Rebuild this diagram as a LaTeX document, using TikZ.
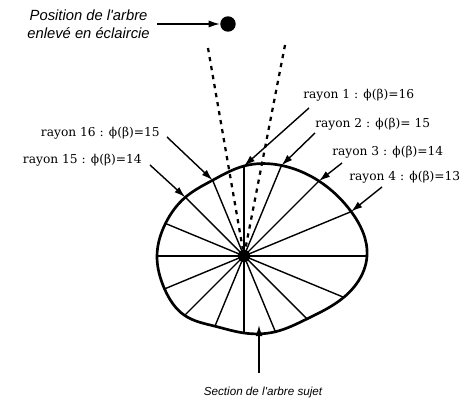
\documentclass[tikz,border=0pt]{standalone}
\usepackage{fontspec}
\usepackage{tikz}
\usetikzlibrary{arrows.meta,calc,hobby}
\newfontfamily\raysfont{DejaVu Serif}
\newfontfamily\notefont{Liberation Sans}

\begin{document}
\begin{tikzpicture}[
    x=0.025cm, y=0.025cm,
    outline/.style={line width=1.9pt, draw=black},
    ray/.style={line width=1pt, draw=black},
    sight/.style={line width=1.6pt, draw=black, dash pattern=on 3pt off 3.5pt},
    edge/.style={-{Latex[length=8pt,width=5pt]}, line width=1pt, draw=black},
    raylabel/.style={font=\raysfont\fontsize{8.7}{10}\selectfont, inner sep=0pt},
    note/.style={font=\notefont\itshape\fontsize{8.3}{9.5}\selectfont, inner sep=0pt, align=center},
]
\useasboundingbox (0,0) rectangle (475,400);

% Section of the tree
\coordinate (c) at (244,144);
\foreach \i/\r in {1/90, 2/98, 3/106, 4/116, 5/123, 6/108, 7/89, 8/82,
                   9/77, 10/76, 11/84, 12/86, 13/87, 14/85, 15/83, 16/82} {
  \coordinate (p\i) at ($(c)+({90-(\i-1)*22.5}:\r)$);
}
\foreach \i in {1,...,16} {
  \draw[ray] (c) -- (p\i);
}
\draw[outline, use Hobby shortcut, closed=true]
  (p1) .. (p2) .. (p3) .. (p4) .. (p5) .. (p6) .. (p7) .. (p8) ..
  (p9) .. (p10) .. (p11) .. (p12) .. (p13) .. (p14) .. (p15) .. (p16);
\node[circle, fill=black, inner sep=0pt, minimum size=9pt] (centre) at (c) {};

% Removed tree and lines of sight
\node[circle, fill=black, inner sep=0pt, minimum size=11pt] (tree) at (228,376) {};
\coordinate (s1) at (208,352);
\coordinate (s2) at (285,355);
\draw[sight] (s1) -- (centre);
\draw[sight] (s2) -- (centre);
\node[note, font=\notefont\itshape\fontsize{10.5}{12.8}\selectfont, anchor=east]
  (treelabel) at (150,376) {Position de l'arbre\\enlevé en éclaircie};
\draw[edge] (treelabel.east) ++(7,0) coordinate (t0) -- (tree);

% Ray labels
\node[raylabel, anchor=west] (l1)  at (303,305) {rayon 1 : ϕ(β)=16};
\node[raylabel, anchor=west] (l2)  at (315,276) {rayon 2 : ϕ(β)= 15};
\node[raylabel, anchor=west] (l3)  at (332,248) {rayon 3 : ϕ(β)=14};
\node[raylabel, anchor=west] (l4)  at (349,223) {rayon 4 : ϕ(β)=13};
\node[raylabel, anchor=east] (l16) at (160,267) {rayon 16 : ϕ(β)=15};
\node[raylabel, anchor=east] (l15) at (142,240) {rayon 15 : ϕ(β)=14};

\coordinate (t1)  at (309,292);
\coordinate (t2)  at (315,267);
\coordinate (t3)  at (342,237);
\coordinate (t4)  at (382,213);
\coordinate (t16) at (167,263);
\coordinate (t15) at (150,235);
\foreach \i in {1,2,3,4,15,16} {
  \draw[edge] (t\i) -- (p\i);
}

% Section label
\node[note] (section) at (263,8) {Section de l'arbre sujet};
\coordinate (b0) at (259,27);
\coordinate (b1) at (259,75);
\draw[edge] (b0) -- (b1);

\end{tikzpicture}
\end{document}
